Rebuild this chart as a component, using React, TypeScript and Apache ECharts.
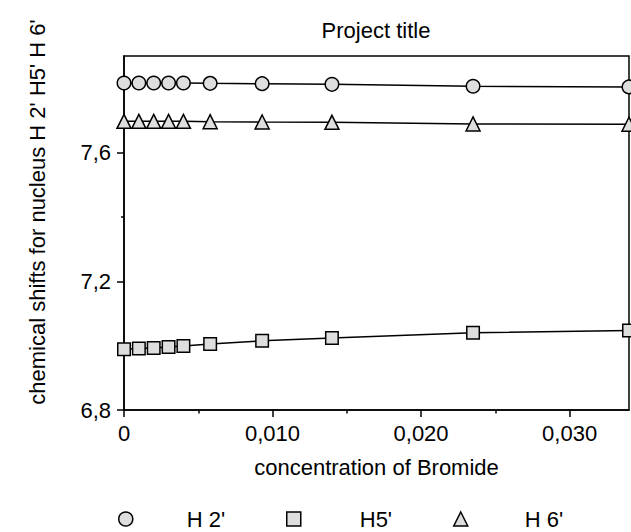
import React, { useEffect, useRef } from 'react';
import * as echarts from 'echarts';

// ---- data ----
const concentration = [0, 0.001, 0.002, 0.003, 0.004, 0.0058, 0.0093, 0.014, 0.0235, 0.034];
const h2Shift = [7.816, 7.816, 7.816, 7.816, 7.816, 7.815, 7.814, 7.812, 7.806, 7.804];
const h5Shift = [6.989, 6.991, 6.993, 6.996, 6.999, 7.005, 7.015, 7.024, 7.04, 7.047];
const h6Shift = [7.697, 7.697, 7.697, 7.697, 7.697, 7.696, 7.695, 7.694, 7.689, 7.688];
const seriesNames = ["H 2'", "H5'", "H 6'"];
const seriesSymbols = ['circle', 'rect', 'triangle'];
const xMajorTicks = [0, 0.01, 0.02, 0.03];
const xMinorTicks = [0.005, 0.015, 0.025];
const yMajorTicks = [6.8, 7.2, 7.6];
const yMinorTicks = [7.0, 7.4, 7.8];
const titleText = 'Project title';
const xAxisTitle = 'concentration of Bromide';
const yAxisTitle = "chemical shifts for nucleus H 2' H5' H 6'";

const FONT = 'Liberation Sans, Arial, sans-serif';
const MARKER_FILL = '#dedede';

export default function App() {
  const ref = useRef<HTMLDivElement>(null);
  useEffect(() => {
    if (!ref.current) return;
    const chart = echarts.init(ref.current, undefined, { renderer: 'svg' });
    const values = [h2Shift, h5Shift, h6Shift];
    const markerSizes = [13.5, 12.5, 14];
    const legendLeft = [118, 286, 453];
    const legendTextPad = [49, 54, 52];
    const xFmt = (v: number) => (v === 0 ? '0' : v.toFixed(3).replace('.', ','));
    const yFmt = (v: number) => v.toFixed(1).replace('.', ',');
    const black = { color: '#000', width: 1.5 };
    const option: any = {
      animation: false,
      backgroundColor: '#fff',
      textStyle: { fontFamily: FONT, color: '#000' },
      title: {
        text: titleText,
        left: 376,
        textAlign: 'center',
        top: 19,
        padding: 0,
        textStyle: { fontFamily: FONT, fontSize: 22, fontWeight: 'normal', color: '#000' },
      },
      grid: {
        left: 124,
        right: 2,
        top: 56,
        bottom: 122,
        show: true,
        borderColor: '#000',
        borderWidth: 1.5,
      },
      xAxis: [
        {
          type: 'value',
          min: 0,
          max: 0.034,
          position: 'bottom',
          axisLine: { show: true, lineStyle: black },
          axisTick: { show: true, customValues: xMajorTicks, length: 7, lineStyle: black },
          axisLabel: {
            customValues: xMajorTicks,
            formatter: xFmt,
            fontSize: 22,
            color: '#000',
            fontFamily: FONT,
            margin: 12,
          },
          splitLine: { show: false },
          name: xAxisTitle,
          nameLocation: 'middle',
          nameGap: 46,
          nameTextStyle: { fontSize: 22, color: '#000', fontFamily: FONT },
        },
        {
          type: 'value',
          min: 0,
          max: 0.034,
          position: 'bottom',
          axisLine: { show: false },
          axisTick: { show: true, customValues: xMinorTicks, length: 3.5, lineStyle: black },
          axisLabel: { show: false },
          splitLine: { show: false },
        },
      ],
      yAxis: [
        {
          type: 'value',
          min: 6.8,
          max: 7.9,
          position: 'left',
          axisLine: { show: true, lineStyle: black },
          axisTick: { show: true, customValues: yMajorTicks, length: 7, lineStyle: black },
          axisLabel: {
            customValues: yMajorTicks,
            formatter: yFmt,
            fontSize: 22,
            color: '#000',
            fontFamily: FONT,
            margin: 13,
          },
          splitLine: { show: false },
        },
        {
          type: 'value',
          min: 6.8,
          max: 7.9,
          position: 'left',
          axisLine: { show: false },
          axisTick: { show: true, customValues: yMinorTicks, length: 3, lineStyle: black },
          axisLabel: { show: false },
          splitLine: { show: false },
        },
      ],
      legend: seriesNames.map((name, i) => ({
        data: [
          {
            name,
            icon: seriesSymbols[i],
            itemStyle: { color: MARKER_FILL, borderColor: '#000', borderWidth: 1.5 },
          },
        ],
        left: legendLeft[i],
        top: 508,
        padding: 0,
        itemWidth: 14,
        itemHeight: 14,
        selectedMode: false,
        textStyle: {
          fontSize: 22,
          lineHeight: 22,
          color: '#000',
          fontFamily: FONT,
          padding: [0, 0, 0, legendTextPad[i]],
        },
      })),
      graphic: [
        {
          type: 'text',
          x: 37,
          y: 212,
          rotation: Math.PI / 2,
          style: {
            text: yAxisTitle,
            fontSize: 22,
            fontFamily: FONT,
            fill: '#000',
            textAlign: 'center',
            textVerticalAlign: 'middle',
          },
        },
      ],
      series: seriesNames.map((name, i) => ({
        name,
        type: 'line',
        xAxisIndex: 0,
        yAxisIndex: 0,
        data: concentration.map((c, j) => [c, values[i][j]]),
        symbol: seriesSymbols[i],
        symbolSize: markerSizes[i],
        showAllSymbol: true,
        clip: false,
        lineStyle: { color: '#000', width: 1.5 },
        itemStyle: { color: MARKER_FILL, borderColor: '#000', borderWidth: 1.5 },
        emphasis: { disabled: true },
      })),
    };
    chart.setOption(option);
    return () => chart.dispose();
  }, []);
  return <div ref={ref} style={{ width: 631, height: 532, position: 'absolute', left: 0, top: 0 }} />;
}
